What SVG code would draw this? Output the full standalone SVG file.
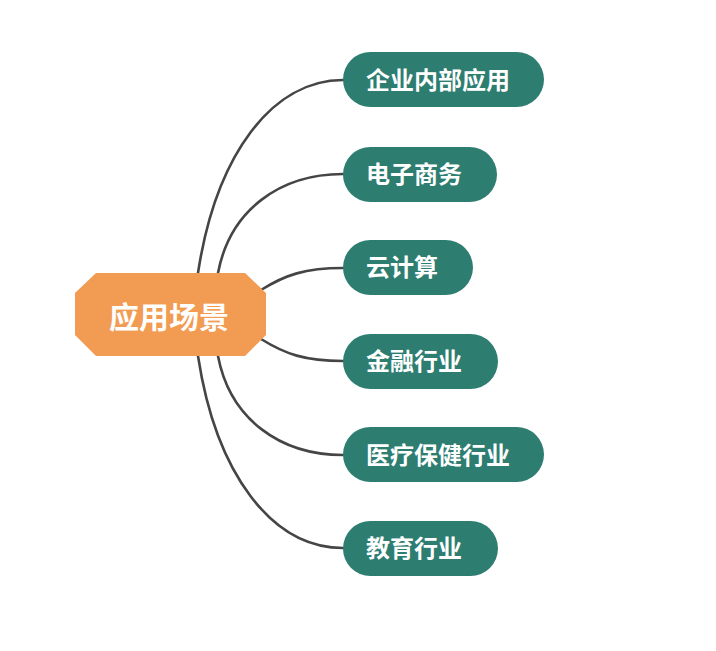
<svg xmlns="http://www.w3.org/2000/svg" width="716" height="651" viewBox="0 0 716 651">
<style>
.conn{fill:none;stroke:#454545;stroke-width:2.6;stroke-linecap:round}
.sub rect{fill:#2D7D71}
.sub text{fill:#fff;font-family:"Noto Sans CJK SC","Noto Sans",sans-serif;font-weight:bold;font-size:24px}
.root polygon{fill:#F29B52}
.root text{fill:#fff;font-family:"Noto Sans CJK SC","Noto Sans",sans-serif;font-weight:bold;font-size:30px}
</style>
<rect width="716" height="651" fill="#fff"/>
<g id="connectors">
<path class="conn" d="M198,273 C216,155 272,80 343,80"/>
<path class="conn" d="M218,273 C230,210 280,174 343,174"/>
<path class="conn" d="M261,290 C285,275 305,268 343,268"/>
<path class="conn" d="M261,339 C285,354 305,361 343,361"/>
<path class="conn" d="M218,356 C230,419 280,455 343,455"/>
<path class="conn" d="M198,356 C216,474 272,548 343,548"/>
</g>
<g id="root" class="root">
<polygon points="96,273 245,273 266,293 266,335 245,356 96,356 75,335 75,293"/>
<text x="169" y="328" text-anchor="middle">应用场景</text>
</g>
<g id="n1" class="sub"><rect x="343" y="52" width="201" height="55" rx="27.5"/><text x="366" y="89">企业内部应用</text></g>
<g id="n2" class="sub"><rect x="343" y="147" width="154" height="55" rx="27.5"/><text x="366" y="183">电子商务</text></g>
<g id="n3" class="sub"><rect x="343" y="240" width="130" height="55" rx="27.5"/><text x="366" y="276">云计算</text></g>
<g id="n4" class="sub"><rect x="343" y="334" width="155" height="55" rx="27.5"/><text x="366" y="370">金融行业</text></g>
<g id="n5" class="sub"><rect x="343" y="427" width="201" height="55" rx="27.5"/><text x="366" y="464">医疗保健行业</text></g>
<g id="n6" class="sub"><rect x="343" y="521" width="155" height="55" rx="27.5"/><text x="366" y="557">教育行业</text></g>
</svg>
